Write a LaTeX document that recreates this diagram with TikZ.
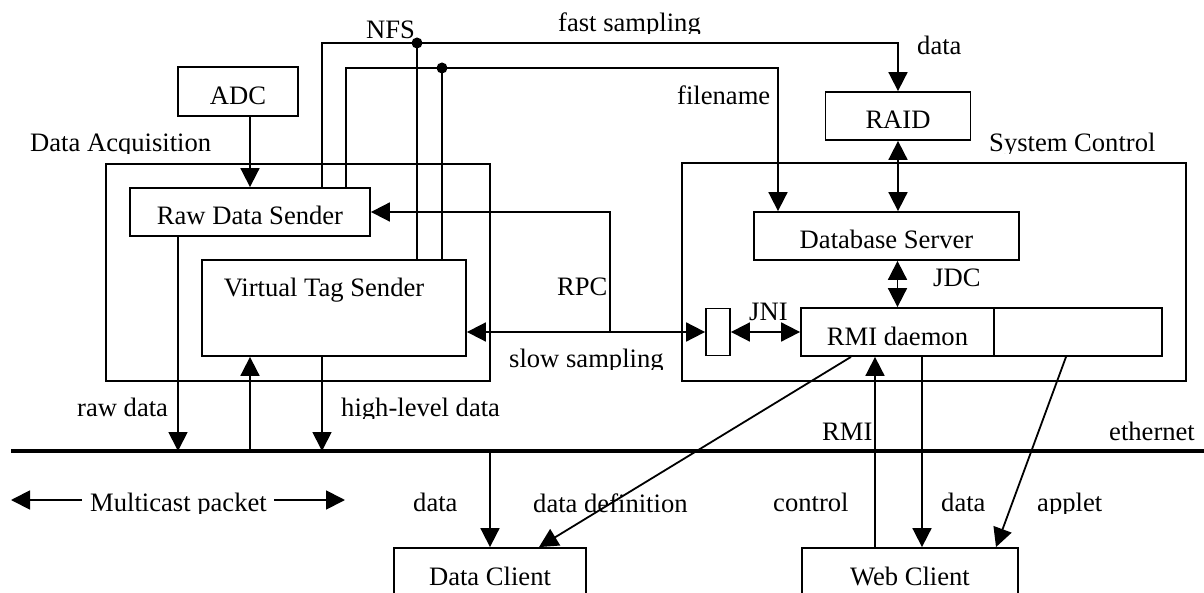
\documentclass[tikz,border=0pt]{standalone}
\usepackage{fontspec}
\setmainfont{Liberation Serif}
\usetikzlibrary{arrows.meta}

% label whose descenders are cut off just below the baseline
\newcommand\cuttext[4]{%
  \begin{scope}
    \clip (#2-4,#3+2) rectangle (#2+400,#3-40);
    \node[lbl] (#1) at (#2,#3) {#4};
  \end{scope}}

\tikzset{
  every node/.style={font=\fontsize{26.6pt}{30pt}\selectfont},
  box/.style={draw, line width=1.8pt, inner sep=0pt, text height=26pt, text depth=0pt},
  wire/.style={line width=1.8pt},
  arr/.style={wire, -{Triangle[length=19pt,width=19pt]}},
  darr/.style={wire, {Triangle[length=19pt,width=19pt]}-{Triangle[length=19pt,width=19pt]}},
  lbl/.style={anchor=base west, inner sep=0pt},
  bus/.style={line width=4pt},
}

\begin{document}
\begin{tikzpicture}[x=1pt, y=-1pt]
\useasboundingbox (0,0) rectangle (1204,593);
\clip (0,0) rectangle (1204,593);

% ---- boxes ----
\node[box, minimum width=120pt, minimum height=49pt] (adc)  at (238,91.5) {ADC};
\node[box, minimum width=145pt, minimum height=48pt] (raid) at (898,116)  {RAID};
\node[box, minimum width=384pt, minimum height=217pt] (da)  at (298,272.5) {};
\node[box, minimum width=504pt, minimum height=218pt] (sc)  at (934,272) {};
\node[box, minimum width=240pt, minimum height=48pt] (rds)  at (250,212) {Raw Data Sender};
\node[box, minimum width=264pt, minimum height=96pt] (vts)  at (334,308) {};
\node[anchor=base, inner sep=0pt] (vtstext) at (324,297) {Virtual Tag Sender};
\node[box, minimum width=265pt, minimum height=48pt] (db)   at (886.5,236) {Database Server};
\node[box, minimum width=24pt,  minimum height=47pt] (jbox) at (718,332) {};
\node[box, minimum width=193pt, minimum height=48pt] (rmi)  at (897.5,332) {RMI daemon};
\node[box, minimum width=168pt, minimum height=48pt] (ext)  at (1078,332) {};
\node[box, minimum width=192pt, minimum height=48pt] (dc)   at (490,572) {Data Client};
\node[box, minimum width=216pt, minimum height=48pt] (wc)   at (910,572) {Web Client};

% ---- routing points ----
\coordinate (oL) at (322,43);  \coordinate (nfsj) at (417,43);  \coordinate (oR) at (898,43);
\coordinate (iL) at (346,68);  \coordinate (fnj)  at (442,68);  \coordinate (iR) at (778,68);
\coordinate (rpcj) at (610,332);
\coordinate (ethL) at (11,451);  \coordinate (ethR) at (1204,451);
\coordinate (tRaw) at (178,451); \coordinate (tVts) at (250,451);
\coordinate (tHigh) at (322,451); \coordinate (tDc) at (490,451);
\coordinate (xdd) at (851,0);  \coordinate (xddE) at (539,0);
\coordinate (xrmi) at (875,0); \coordinate (xdat) at (922,0);
\coordinate (xapp) at (1066,0); \coordinate (xappE) at (996,0);
\coordinate (mcL) at (11,500);  \coordinate (mcA) at (82,500);
\coordinate (mcB) at (274,500); \coordinate (mcR) at (345,500);

% ---- ethernet bus ----
\draw[bus] (ethL) -- (ethR);

% ---- connectors ----
\draw[arr] (rds.north |- adc.south) -- (rds.north);
\draw[arr] (oL |- rds.north) -- (oL) -- (oR) -- (raid.north);
\draw[arr] (iL |- rds.north) -- (iL) -- (iR) -- (iR |- db.north);
\draw[wire] (nfsj) -- (nfsj |- vts.north);
\draw[wire] (fnj) -- (fnj |- vts.north);
\fill (nfsj) circle (5.5pt);
\fill (fnj) circle (5.5pt);
\draw[arr] (rpcj) -- (rpcj |- rds.east) -- (rds.east);
\draw[darr] (vts.east |- jbox.west) -- (jbox.west);
\draw[darr] (jbox.east) -- (rmi.west);
\draw[darr] (raid.south) -- (raid.south |- db.north);
\draw[darr] (rmi.north |- db.south) -- (rmi.north);

\draw[arr] (tRaw |- rds.south) -- (tRaw);
\draw[arr] (tVts) -- (tVts |- vts.south);
\draw[arr] (tHigh |- vts.south) -- (tHigh);
\draw[arr] (tDc) -- (dc.north);
\draw[arr] (xdd |- rmi.south) -- (xddE |- dc.north);
\draw[arr] (xrmi |- wc.north) -- (xrmi |- rmi.south);
\draw[arr] (xdat |- rmi.south) -- (xdat |- wc.north);
\draw[arr] (xapp |- ext.south) -- (xappE |- wc.north);

\draw[arr] (mcA) -- (mcL);
\draw[arr] (mcB) -- (mcR);

% ---- labels ----
\node[lbl] (nfs) at (366,39) {NFS};
\cuttext{fast}{558}{32}{fast sampling}
\node[lbl] (dataraid) at (917,55) {data};
\node[lbl] (fname) at (677,105) {filename};
\cuttext{sctl}{989}{152}{System Control}
\cuttext{dacq}{30}{152}{Data Acquisition}
\node[lbl] (jdc) at (933,287) {JDC};
\node[lbl] (jni) at (749,320) {JNI};
\node[lbl] (rpc) at (557,296) {RPC};
\cuttext{slow}{509}{367}{slow sampling}
\node[lbl] (raw) at (77,416) {raw data};
\cuttext{high}{341}{416}{high-level data}
\node[lbl] (rmil) at (822,440) {RMI};
\node[lbl] (eth) at (1109,440) {ethernet};
\cuttext{mc}{90}{511}{Multicast packet}
\node[lbl] (datadc) at (413,511) {data};
\node[lbl] (ddef) at (533,512) {data definition};
\node[lbl] (ctrl) at (773,511) {control};
\node[lbl] (datawc) at (941,511) {data};
\cuttext{applet}{1037}{511}{applet}
\end{tikzpicture}
\end{document}
